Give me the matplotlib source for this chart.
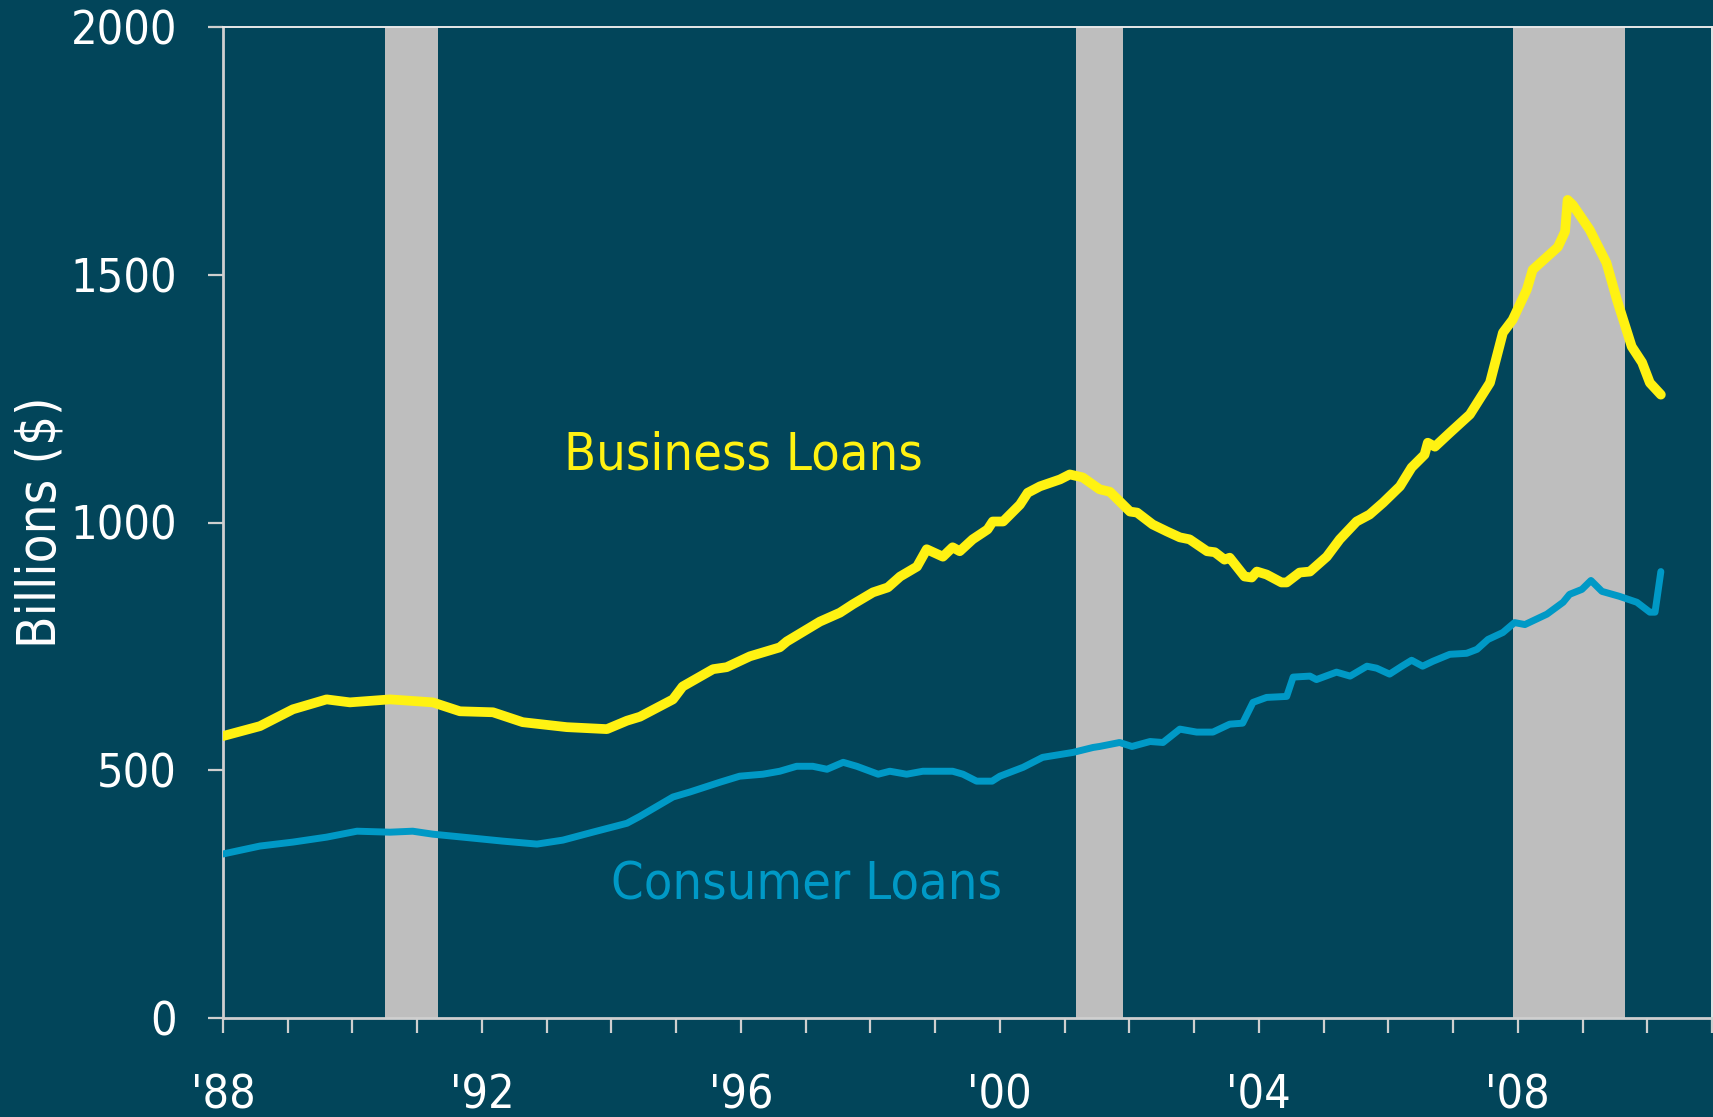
import matplotlib
matplotlib.use("Agg")
import matplotlib.pyplot as plt
from matplotlib import font_manager as fm

# ---------------- data ----------------
business_years = [1988.0, 1988.57, 1989.08, 1989.6, 1989.96, 1990.58, 1991.24, 1991.66, 1992.17, 1992.63,
                  1993.31, 1993.93, 1994.24, 1994.44, 1994.95, 1995.10, 1995.57, 1995.78, 1996.14, 1996.60,
                  1996.71, 1997.22, 1997.53, 1997.73, 1998.04, 1998.27, 1998.46, 1998.72, 1998.87, 1999.12,
                  1999.27, 1999.38, 1999.58, 1999.81, 1999.89, 2000.05, 2000.31, 2000.43, 2000.62, 2000.93,
                  2001.08, 2001.28, 2001.54, 2001.70, 2002.01, 2002.12, 2002.36, 2002.58, 2002.78, 2002.93,
                  2003.20, 2003.32, 2003.47, 2003.55, 2003.78, 2003.89, 2003.97, 2004.12, 2004.35, 2004.43,
                  2004.63, 2004.79, 2005.05, 2005.25, 2005.51, 2005.71, 2005.92, 2006.18, 2006.36, 2006.56,
                  2006.61, 2006.72, 2006.95, 2007.26, 2007.57, 2007.77, 2007.92, 2008.14, 2008.23, 2008.62,
                  2008.73, 2008.77, 2008.85, 2009.11, 2009.37, 2009.53, 2009.76, 2009.92, 2010.04, 2010.21]
business_values = [569, 589, 623, 643, 637, 643, 637, 619, 617, 597,
                   587, 583, 600, 608, 643, 669, 704, 708, 730, 748,
                   760, 800, 818, 835, 859, 869, 891, 911, 946, 931,
                   950, 942, 966, 986, 1002, 1002, 1036, 1060, 1073, 1087,
                   1097, 1091, 1067, 1062, 1022, 1020, 996, 982, 970, 966,
                   942, 940, 925, 929, 891, 889, 901, 895, 879, 879,
                   899, 901, 931, 966, 1002, 1016, 1040, 1073, 1111, 1137,
                   1161, 1153, 1181, 1218, 1282, 1383, 1409, 1470, 1510, 1556,
                   1587, 1651, 1641, 1591, 1524, 1450, 1355, 1323, 1282, 1258]

consumer_years = [1988.0, 1988.57, 1989.08, 1989.6, 1990.07, 1990.58, 1990.93, 1991.24, 1991.86, 1992.32,
                  1992.85, 1993.25, 1993.71, 1994.24, 1994.44, 1994.95, 1995.21, 1995.68, 1995.98, 1996.34,
                  1996.60, 1996.86, 1997.11, 1997.33, 1997.58, 1997.79, 1998.12, 1998.30, 1998.56, 1998.81,
                  1999.27, 1999.43, 1999.64, 1999.88, 2000.0, 2000.36, 2000.66, 2001.13, 2001.44, 2001.54,
                  2001.85, 2002.04, 2002.32, 2002.52, 2002.78, 2003.04, 2003.29, 2003.55, 2003.75, 2003.91,
                  2004.12, 2004.43, 2004.53, 2004.79, 2004.89, 2005.20, 2005.41, 2005.67, 2005.82, 2006.02,
                  2006.21, 2006.36, 2006.53, 2006.69, 2006.95, 2007.21, 2007.37, 2007.54, 2007.77, 2007.95,
                  2008.11, 2008.45, 2008.70, 2008.80, 2008.99, 2009.13, 2009.30, 2009.57, 2009.84, 2010.04,
                  2010.12, 2010.21]
consumer_values = [331, 347, 355, 365, 377, 375, 377, 371, 363, 357,
                   351, 359, 375, 393, 407, 446, 456, 476, 488, 492,
                   498, 508, 508, 502, 516, 508, 492, 498, 492, 498,
                   498, 492, 478, 478, 488, 506, 526, 536, 546, 548,
                   556, 548, 558, 556, 583, 577, 577, 593, 595, 637,
                   647, 649, 688, 690, 683, 698, 690, 710, 706, 694,
                   710, 722, 710, 720, 734, 736, 744, 764, 778, 798,
                   794, 815, 839, 855, 865, 883, 861, 851, 839, 819,
                   819, 901]

recession_starts = [1990.5, 2001.17, 2007.92]
recession_ends = [1991.32, 2001.9, 2009.65]

y_ticks = [0, 500, 1000, 1500, 2000]
x_label_years = [1988, 1992, 1996, 2000, 2004, 2008]
x_labels = ["'88", "'92", "'96", "'00", "'04", "'08"]

# ---------------- style ----------------
BG = "#02455A"
YELLOW = "#FFF212"
BLUE = "#0099C6"
BAND = "#BEBEBE"
AXC = "#CFCFCF"

has_cond = any(f.name == "DejaVu Sans" and f.stretch in ("condensed", "semi-condensed", 600, 500)
               for f in fm.fontManager.ttflist) or any(
    f.name == "DejaVu Sans" and "Condensed" in f.fname for f in fm.fontManager.ttflist)
if has_cond:
    plt.rcParams["font.stretch"] = "condensed"
    tick_fs, lab_fs, ann_fs = 33.5, 38, 37.5
else:
    tick_fs, lab_fs, ann_fs = 30, 34, 33.5
plt.rcParams["font.family"] = ["DejaVu Sans"]

W, H = 1713, 1117
fig = plt.figure(figsize=(W / 100, H / 100), dpi=100, facecolor=BG)
ax = fig.add_axes([223 / W, 1 - 1018 / H, (1712 - 223) / W, (1018 - 27) / H])
ax.set_facecolor(BG)

for s, e in zip(recession_starts, recession_ends):
    ax.axvspan(s, e, color=BAND, lw=0, zorder=1)

ax.plot(business_years, business_values, color=YELLOW, lw=7, solid_capstyle="round",
        solid_joinstyle="round", zorder=3)
ax.plot(consumer_years, consumer_values, color=BLUE, lw=5, solid_capstyle="round",
        solid_joinstyle="round", zorder=3)

ax.set_xlim(1988, 2011)
ax.set_ylim(0, 2000)

ax.set_yticks(y_ticks)
ax.set_yticklabels([str(v) for v in y_ticks])
all_years = list(range(1988, 2012))
ax.set_xticks(all_years)
ax.set_xticklabels([x_labels[x_label_years.index(y)] if y in x_label_years else "" for y in all_years])

ax.tick_params(axis="y", direction="out", length=11, width=1.6, color=AXC, labelcolor="white",
               labelsize=tick_fs, pad=22)
ax.tick_params(axis="x", direction="out", length=11, width=1.6, color=AXC, labelcolor="white",
               labelsize=tick_fs, pad=29)

for side in ["left", "bottom"]:
    ax.spines[side].set_color(AXC)
    ax.spines[side].set_linewidth(2.0)
for side in ["top", "right"]:
    ax.spines[side].set_color("#E8E8E8")
    ax.spines[side].set_linewidth(1.4)

ax.set_ylabel("Billions ($)", color="white", fontsize=lab_fs)
ax.yaxis.set_label_coords(-0.105, 0.5)

ax.text(1993.27, 1135, "Business Loans", color=YELLOW, fontsize=ann_fs, ha="left", va="center", zorder=4)
ax.text(1994.0, 268, "Consumer Loans", color=BLUE, fontsize=ann_fs, ha="left", va="center", zorder=4)

fig.savefig("out.png", dpi=100, facecolor=BG)
